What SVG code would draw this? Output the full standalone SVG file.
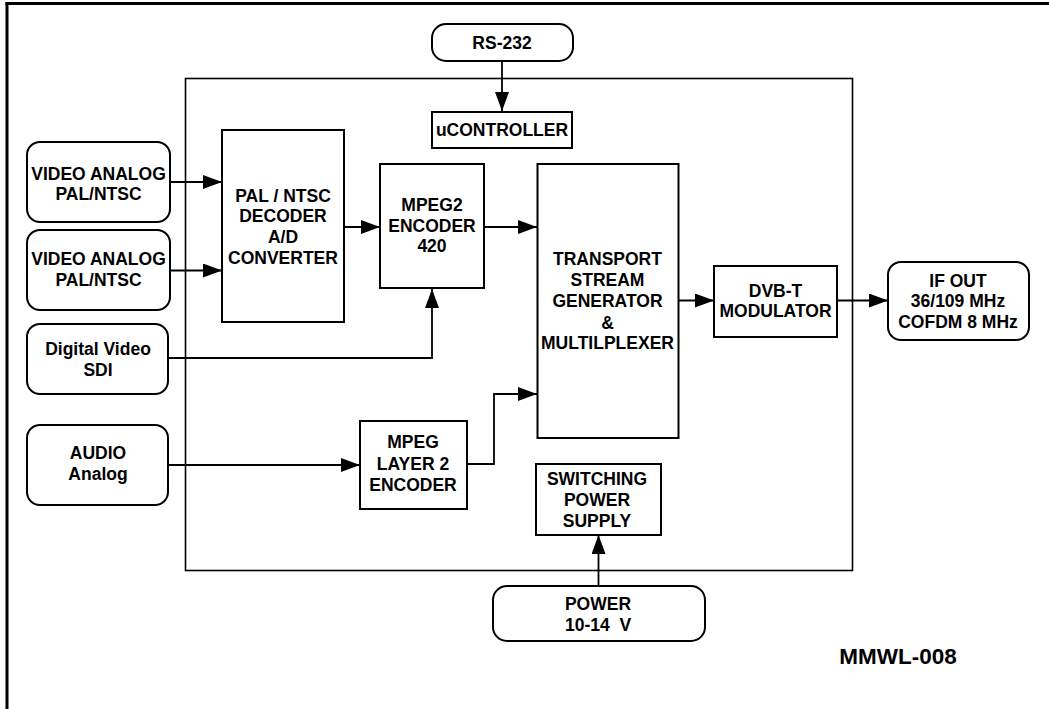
<svg xmlns="http://www.w3.org/2000/svg" width="1049" height="709" viewBox="0 0 1049 709">
<style>
.box{fill:#fff;stroke:#000;stroke-width:2}
.term{fill:#fff;stroke:#000;stroke-width:2}
.ln{fill:none;stroke:#000;stroke-width:1.8}
text{font-family:"Liberation Sans",Arial,sans-serif;font-weight:bold;font-size:17.5px;fill:#000;text-anchor:middle}
</style>
<defs>
<marker id="ah" markerUnits="userSpaceOnUse" viewBox="0 0 19 14" markerWidth="19" markerHeight="14" refX="19" refY="7" orient="auto">
<path d="M0,0 L19,7 L0,14 z" fill="#000"/>
</marker>
</defs>
<rect width="1049" height="709" fill="#fff"/>
<g id="frame">
<line x1="5.5" y1="3.5" x2="1049" y2="3.5" stroke="#000" stroke-width="3"/>
<line x1="7" y1="2" x2="7" y2="709" stroke="#000" stroke-width="3"/>
</g>
<g id="enclosure">
<rect x="185.5" y="78.5" width="667" height="492" fill="none" stroke="#000" stroke-width="1.6"/>
</g>
<g id="connectors">
<line class="ln" x1="502" y1="61" x2="502" y2="111" marker-end="url(#ah)"/>
<line class="ln" x1="170" y1="182" x2="222" y2="182" marker-end="url(#ah)"/>
<line class="ln" x1="170" y1="270.5" x2="222" y2="270.5" marker-end="url(#ah)"/>
<line class="ln" x1="344" y1="227" x2="380" y2="227" marker-end="url(#ah)"/>
<line class="ln" x1="484" y1="227" x2="537" y2="227" marker-end="url(#ah)"/>
<polyline class="ln" points="168,358 432,358 432,289" marker-end="url(#ah)"/>
<line class="ln" x1="168" y1="465" x2="360" y2="465" marker-end="url(#ah)"/>
<polyline class="ln" points="467,464 494,464 494,394 537,394" marker-end="url(#ah)"/>
<line class="ln" x1="678" y1="300.5" x2="714" y2="300.5" marker-end="url(#ah)"/>
<line class="ln" x1="837" y1="300.5" x2="888" y2="300.5" marker-end="url(#ah)"/>
<line class="ln" x1="598.5" y1="598" x2="598.5" y2="535" marker-end="url(#ah)"/>
</g>
<g id="rs232">
<rect class="term" x="432" y="24" width="141" height="37" rx="14"/>
<text x="502" y="48.5">RS-232</text>
</g>
<g id="ucontroller">
<rect class="box" x="432" y="112" width="140" height="36"/>
<text x="502" y="136">uCONTROLLER</text>
</g>
<g id="video1">
<rect class="term" x="27" y="142" width="143" height="80" rx="13"/>
<text x="98.5" y="180">VIDEO ANALOG</text>
<text x="98.5" y="200">PAL/NTSC</text>
</g>
<g id="video2">
<rect class="term" x="27" y="230" width="143" height="80" rx="13"/>
<text x="98.5" y="265">VIDEO ANALOG</text>
<text x="98.5" y="286">PAL/NTSC</text>
</g>
<g id="digital">
<rect class="term" x="27" y="324" width="141" height="70" rx="13"/>
<text x="98" y="355">Digital Video</text>
<text x="98" y="375.5">SDI</text>
</g>
<g id="audio">
<rect class="term" x="27" y="425" width="141" height="80" rx="13"/>
<text x="98" y="459">AUDIO</text>
<text x="98" y="480">Analog</text>
</g>
<g id="decoder">
<rect class="box" x="222" y="130" width="122" height="192"/>
<text x="283" y="201.5">PAL / NTSC</text>
<text x="283" y="221.5">DECODER</text>
<text x="283" y="243">A/D</text>
<text x="283" y="264">CONVERTER</text>
</g>
<g id="mpeg2">
<rect class="box" x="380" y="164" width="104" height="124"/>
<text x="432" y="211">MPEG2</text>
<text x="432" y="232">ENCODER</text>
<text x="432" y="252">420</text>
</g>
<g id="transport">
<rect class="box" x="537.5" y="164" width="141" height="274"/>
<text x="607.5" y="265">TRANSPORT</text>
<text x="607.5" y="286">STREAM</text>
<text x="607.5" y="306.5">GENERATOR</text>
<text x="607.5" y="329">&amp;</text>
<text x="607.5" y="349" textLength="133" lengthAdjust="spacingAndGlyphs">MULTILPLEXER</text>
</g>
<g id="dvbt">
<rect class="box" x="714" y="266" width="123" height="71"/>
<text x="775.5" y="296.5">DVB-T</text>
<text x="775.5" y="316.5">MODULATOR</text>
</g>
<g id="ifout">
<rect class="term" x="888" y="262" width="141" height="78" rx="13"/>
<text x="958" y="286.5">IF OUT</text>
<text x="958" y="306.5">36/109 MHz</text>
<text x="958" y="328">COFDM 8 MHz</text>
</g>
<g id="layer2">
<rect class="box" x="360" y="421" width="107" height="88"/>
<text x="413" y="448">MPEG</text>
<text x="413" y="470" xml:space="preserve">LAYER 2</text>
<text x="413" y="491">ENCODER</text>
</g>
<g id="psu">
<rect class="box" x="536" y="464" width="125" height="71"/>
<text x="597" y="485">SWITCHING</text>
<text x="597" y="505.5">POWER</text>
<text x="597" y="526.5">SUPPLY</text>
</g>
<g id="power">
<rect class="term" x="493" y="586" width="212" height="55" rx="14"/>
<text x="598" y="609.5">POWER</text>
<text x="598" y="630.5" xml:space="preserve">10-14  V</text>
</g>
<g id="label">
<text x="898" y="664" style="font-size:22.5px">MMWL-008</text>
</g>
</svg>
